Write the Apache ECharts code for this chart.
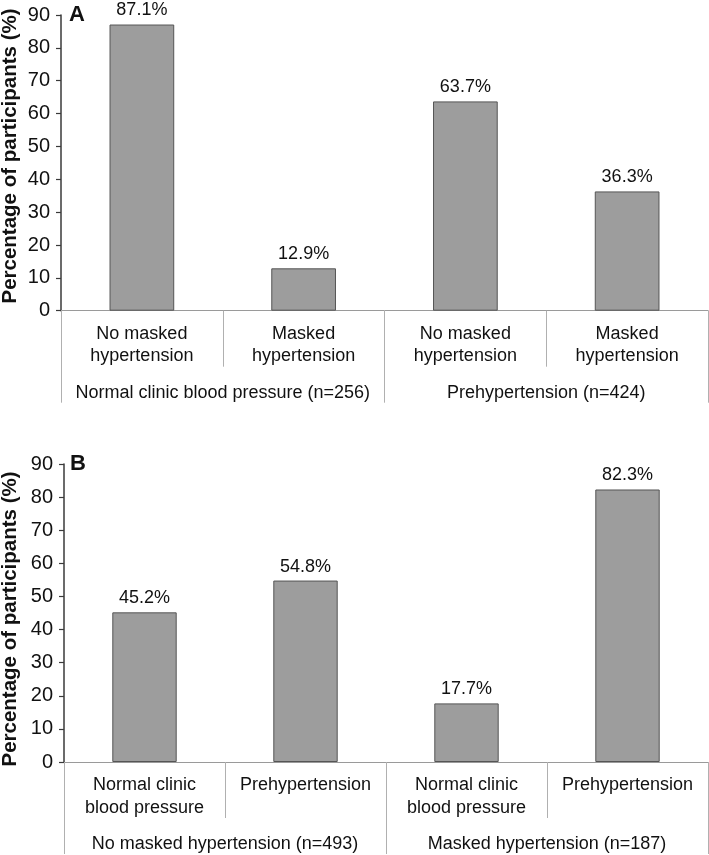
<!DOCTYPE html>
<html>
<head>
<meta charset="utf-8">
<script src="https://cdn.jsdelivr.net/npm/echarts@6/dist/echarts.min.js"></script>
<style>html,body{margin:0;padding:0;background:#fff}#c{width:709px;height:855px}</style>
</head>
<body>
<div id="c"></div>
<script>
const categoriesA = ['No masked\nhypertension', 'Masked\nhypertension', 'No masked\nhypertension', 'Masked\nhypertension'];
const groupsA = ['Normal clinic blood pressure (n=256)', 'Prehypertension (n=424)'];
const valuesA = [87.1, 12.9, 63.7, 36.3];

const categoriesB = ['Normal clinic\nblood pressure', 'Prehypertension', 'Normal clinic\nblood pressure', 'Prehypertension'];
const groupsB = ['No masked hypertension (n=493)', 'Masked hypertension (n=187)'];
const valuesB = [45.2, 54.8, 17.7, 82.3];

const yTicks = { min: 0, max: 90, interval: 10 };
const yTitle = 'Percentage of participants (%)';

const FONT = 'Liberation Sans, Arial, sans-serif';
const FS = 18;
const chart = echarts.init(document.getElementById('c'), null, { renderer: 'canvas' });

function catAxis(gridIndex, data) {
  return {
    type: 'category', gridIndex, data, position: 'bottom',
    axisLine: { show: true, lineStyle: { color: '#9a9a9a', width: 1 } },
    axisTick: { show: true, length: 56, interval: 0, lineStyle: { color: '#b0b0b0', width: 1 } },
    axisLabel: { interval: 0, margin: 12, fontFamily: FONT, fontSize: FS, color: '#111', lineHeight: 22.5, align: 'center' },
    splitLine: { show: false }
  };
}
function grpAxis(gridIndex, data) {
  return {
    type: 'category', gridIndex, data, position: 'bottom',
    axisLine: { show: false },
    axisTick: { show: true, length: 92, interval: 0, lineStyle: { color: '#b0b0b0', width: 1 } },
    axisLabel: { interval: 0, margin: 71, fontFamily: FONT, fontSize: FS, color: '#111', lineHeight: 22 },
    splitLine: { show: false }
  };
}
function valAxis(gridIndex) {
  return {
    type: 'value', gridIndex, min: yTicks.min, max: yTicks.max, interval: yTicks.interval,
    axisLine: { show: true, lineStyle: { color: '#3a3a3a', width: 1.5 } },
    axisTick: { show: true, length: 5, inside: false, lineStyle: { color: '#3a3a3a', width: 1.2 } },
    axisLabel: { margin: 11, fontFamily: FONT, fontSize: 20, color: '#111' },
    splitLine: { show: false }
  };
}
function barSeries(xi, yi, data) {
  return {
    type: 'bar', xAxisIndex: xi, yAxisIndex: yi, data,
    barWidth: '40%',
    itemStyle: { color: '#9d9d9d', borderColor: '#555', borderWidth: 1 },
    label: { show: true, position: 'top', distance: 5, formatter: '{c}%', fontFamily: FONT, fontSize: FS, color: '#111' },
    silent: true
  };
}

chart.setOption({
  animation: false,
  backgroundColor: '#fff',
  grid: [
    { left: 61, right: 1, top: 15, height: 295.7 },
    { left: 64, right: 1, top: 464, height: 299 }
  ],
  xAxis: [catAxis(0, categoriesA), grpAxis(0, groupsA), catAxis(1, categoriesB), grpAxis(1, groupsB)],
  yAxis: [valAxis(0), valAxis(1)],
  series: [barSeries(0, 0, valuesA), barSeries(2, 1, valuesB)],
  graphic: [
    { type: 'text', x: 10, y: 156, rotation: Math.PI / 2, style: { text: yTitle, fontFamily: FONT, fontWeight: 'bold', fontSize: 20.5, fill: '#111', align: 'center', verticalAlign: 'middle' } },
    { type: 'text', x: 10, y: 619, rotation: Math.PI / 2, style: { text: yTitle, fontFamily: FONT, fontWeight: 'bold', fontSize: 20.5, fill: '#111', align: 'center', verticalAlign: 'middle' } },
    { type: 'text', x: 77, y: 15, style: { text: 'A', fontFamily: FONT, fontWeight: 'bold', fontSize: 22, fill: '#111', align: 'center', verticalAlign: 'middle' } },
    { type: 'text', x: 78, y: 464, style: { text: 'B', fontFamily: FONT, fontWeight: 'bold', fontSize: 22, fill: '#111', align: 'center', verticalAlign: 'middle' } }
  ]
});
</script>
</body>
</html>
